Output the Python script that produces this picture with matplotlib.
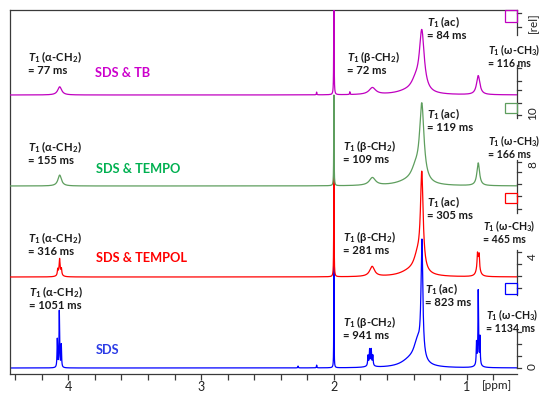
import numpy as np
import matplotlib
matplotlib.use("Agg")
import matplotlib.pyplot as plt
from matplotlib.patches import Rectangle
from matplotlib.transforms import blended_transform_factory

plt.rcParams["font.family"] = ["Lato", "DejaVu Sans"]
plt.rcParams["mathtext.fontset"] = "custom"
plt.rcParams["mathtext.it"] = "Lato:italic:bold"
plt.rcParams["mathtext.rm"] = "Lato:bold"
plt.rcParams["mathtext.bf"] = "Lato:bold"

# ---------------------------------------------------------------- data
samples = ["SDS", "SDS & TEMPOL", "SDS & TEMPO", "SDS & TB"]
line_colors = ["#0000FF", "#FF0000", "#5E9E5E", "#C000C0"]
name_colors = ["#2B3BE6", "#FF0000", "#00B050", "#CC00CC"]

# T1 relaxation times (ms) per sample
t1_alpha = [1051, 316, 155, 77]
t1_beta = [941, 281, 109, 72]
t1_ac = [823, 305, 119, 84]
t1_omega = [1134, 465, 166, 116]

# Peak lists: centre (ppm), height (rel.), half width (ppm)
sds_ppm = [4.083, 4.068, 4.053, 2.000, 2.130, 2.270,
           1.743, 1.731, 1.719, 1.707, 1.725,
           1.337, 1.370, 1.430, 0.926, 0.913, 0.900, 0.913]
sds_hgt = [0.31, 0.62, 0.25, 1.22, 0.03, 0.02,
           0.11, 0.17, 0.17, 0.11, 0.02,
           1.26, 0.24, 0.07, 0.24, 0.80, 0.30, 0.04]
sds_wid = [0.0025, 0.0025, 0.0025, 0.0012, 0.002, 0.002,
           0.003, 0.003, 0.003, 0.003, 0.03,
           0.008, 0.035, 0.08, 0.0025, 0.0025, 0.0025, 0.02]

tempol_ppm = [4.065, 4.080, 4.066, 4.052, 2.000, 1.712,
              1.338, 1.370, 1.430, 0.913, 0.919, 0.906]
tempol_hgt = [0.08, 0.06, 0.12, 0.06, 1.32, 0.11,
              1.04, 0.18, 0.05, 0.18, 0.12, 0.12]
tempol_wid = [0.012, 0.003, 0.003, 0.003, 0.0015, 0.022,
              0.012, 0.035, 0.09, 0.012, 0.003, 0.003]

tempo_ppm = [4.065, 2.000, 1.710, 1.338, 1.385, 1.450, 0.913]
tempo_hgt = [0.12, 1.00, 0.085, 0.84, 0.14, 0.035, 0.25]
tempo_wid = [0.016, 0.0015, 0.028, 0.020, 0.04, 0.10, 0.012]

tb_ppm = [4.065, 2.000, 2.130, 1.880, 1.710, 1.338, 1.385, 1.450, 0.913]
tb_hgt = [0.09, 1.30, 0.03, 0.03, 0.075, 0.66, 0.11, 0.03, 0.21]
tb_wid = [0.018, 0.0015, 0.002, 0.002, 0.030, 0.022, 0.04, 0.10, 0.015]

peak_lists = [(sds_ppm, sds_hgt, sds_wid),
              (tempol_ppm, tempol_hgt, tempol_wid),
              (tempo_ppm, tempo_hgt, tempo_wid),
              (tb_ppm, tb_hgt, tb_wid)]

x_ticks = [4, 3, 2, 1]


def lorentz_sum(x, centres, heights, widths):
    y = np.zeros_like(x)
    for c, h, w in zip(centres, heights, widths):
        y += h / (1.0 + ((x - c) / w) ** 2)
    return y


# ---------------------------------------------------------------- figure
fig = plt.figure(figsize=(5.4, 3.93), dpi=100)
W, H = 540.0, 393.0
ax = fig.add_axes([9.5 / W, 1 - 374 / H, (517 - 9.5) / W, (374 - 10) / H])

X0, X1 = 4.443, 0.621
ax.set_xlim(X0, X1)
ax.set_ylim(-0.066, 3.934)

ppm = np.linspace(X0, X1, 12000)
for i, (c, h, w) in enumerate(peak_lists):
    ax.plot(ppm, i + lorentz_sum(ppm, c, h, w), color=line_colors[i],
            lw=0.9, zorder=2 + i)

spine_col = "#3A3A3A"
for s in ["left", "top", "bottom"]:
    ax.spines[s].set_color(spine_col)
    ax.spines[s].set_linewidth(0.9)
ax.spines["right"].set_visible(False)

ax.set_yticks([])
ax.set_xticks(x_ticks)
ax.set_xticklabels([str(t) for t in x_ticks])
ax.set_xticks(np.arange(0.8, 4.5, 0.2), minor=True)
ax.tick_params(axis="x", which="both", direction="out", length=4,
               width=0.9, color=spine_col, labelsize=9, labelcolor="#222222",
               pad=1)
ax.text(0.775, -0.13, "[ppm]", ha="center", va="top", fontsize=8.5,
        color="#222222")


def yv(py):
    return (368.0 - py) / 91.0


def xv(px):
    return 4.0 - (px - 68.3) / 132.8


# ---------------------------------------------------------------- labels
lab_kw = dict(fontweight="bold", color="#1A1A1A",
              ha="left", va="center", zorder=10)
label_pos = [  # (alpha, beta, ac, omega) positions, px
    [(29, 292), (343, 322), (425, 289), (486, 315)],
    [(28, 238), (343, 237), (427, 202), (483, 226)],
    [(28, 147), (343, 146), (427, 114), (488, 141)],
    [(28, 57), (347, 57), (427, 22), (488, 50)],
]
groups = ["α-CH$_2$", "β-CH$_2$", "ac", "ω-CH$_3$"]
sizes = [8.1, 8.1, 8.1, 7.6]
for i in range(4):
    vals = [t1_alpha[i], t1_beta[i], t1_ac[i], t1_omega[i]]
    for (px, py), g, v, fs in zip(label_pos[i], groups, vals, sizes):
        ax.text(xv(px), yv(py), r"$T_1$ (" + g + ")", fontsize=fs, **lab_kw)
        ax.text(xv(px), yv(py + 14), f"= {v} ms", fontsize=fs, **lab_kw)

name_pos = [(96, 350), (96, 258), (96, 169), (95, 73)]
for i, (px, py) in enumerate(name_pos):
    ax.text(xv(px), yv(py), samples[i], fontsize=9.2, fontweight="bold",
            color=name_colors[i], ha="left", va="center", zorder=10)

# ---------------------------------------------------------------- scale bar
tr = blended_transform_factory(ax.transAxes, ax.transData)
segments = [(10, 35), (65, 118), (160, 213), (250, 295), (330, 368)]
seg_ticks = [[13, 27], [68, 81, 90, 103, 115], [162, 172, 184, 196, 209],
             [252, 264, 276, 288], [332, 344, 356, 368]]
tick_len = 4 / 507.5
for (a, b), tks in zip(segments, seg_ticks):
    ax.plot([1, 1], [yv(a), yv(b)], color=spine_col, lw=0.9, transform=tr,
            clip_on=False)
    for t in tks:
        ax.plot([1, 1 + tick_len], [yv(t), yv(t)], color=spine_col, lw=0.9,
                transform=tr, clip_on=False)

scale_labels = [("[rel]", 23), ("10", 113), ("8", 165), ("4", 257), ("0", 367)]
for txt, py in scale_labels:
    ax.text(1 + 10 / 507.5, yv(py), txt, rotation=90, ha="left", va="center",
            fontsize=8.5, color="#222222", transform=tr, clip_on=False)

box_rows = [(283, 294), (193, 203), (103, 113), (10, 22)]
for i, (a, b) in enumerate(box_rows):
    ax.add_patch(Rectangle((xv(505), yv(b)), xv(517) - xv(505), yv(a) - yv(b),
                           fill=False, edgecolor=line_colors[i], lw=0.9,
                           zorder=6, clip_on=False))

fig.savefig("out.png", dpi=100)
